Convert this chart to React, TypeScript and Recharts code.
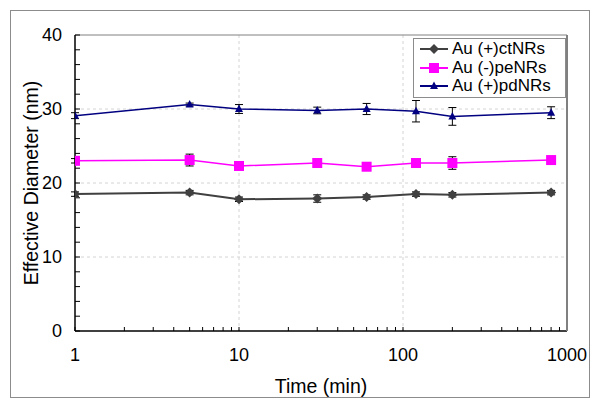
import React from 'react';
import { LineChart, Line, XAxis, YAxis, CartesianGrid, ErrorBar } from 'recharts';

// sampling times (min)
const times = [1, 5, 10, 30, 60, 120, 200, 800];

const ctValues = [18.5, 18.7, 17.8, 17.9, 18.1, 18.5, 18.4, 18.7];
const ctErrors = [0.3, 0.3, 0.3, 0.5, 0.3, 0.3, 0.3, 0.3];
const peValues = [23.0, 23.1, 22.3, 22.7, 22.2, 22.7, 22.7, 23.1];
const peErrors = [0.3, 0.8, 0.3, 0.3, 0.3, 0.3, 0.85, 0.3];
const pdValues = [29.1, 30.6, 30.0, 29.8, 30.0, 29.7, 29.0, 29.5];
const pdErrors = [0.4, 0.2, 0.6, 0.45, 0.75, 1.45, 1.2, 0.8];

const xTicks = [1, 2, 3, 4, 5, 6, 7, 8, 9, 10, 20, 30, 40, 50, 60, 70, 80, 90, 100, 200, 300, 400, 500, 600, 700, 800, 900, 1000];
const xLabels = [1, 10, 100, 1000];
const yTicks = [0, 2, 4, 6, 8, 10, 12, 14, 16, 18, 20, 22, 24, 26, 28, 30, 32, 34, 36, 38, 40];
const yLabels = [0, 10, 20, 30, 40];

const seriesNames = ['Au (+)ctNRs', 'Au (-)peNRs', 'Au (+)pdNRs'];
const seriesColors = ['#404040', '#ff00ff', '#000080'];

const data = times.map((t, i) => ({
  time: t,
  ct: ctValues[i],
  ctErr: ctErrors[i],
  pe: peValues[i],
  peErr: peErrors[i],
  pd: pdValues[i],
  pdErr: pdErrors[i]
}));

const FONT = '"Liberation Sans", Arial, sans-serif';
// plot area edges
const PLOT_LEFT = 75;
const PLOT_BOTTOM = 331;

const Marker = ({ kind, cx, cy, color }: { kind: number; cx: number; cy: number; color: string }) => {
  if (kind === 0) {
    const r = 5;
    return <polygon points={`${cx},${cy - r} ${cx + r},${cy} ${cx},${cy + r} ${cx - r},${cy}`} fill={color} />;
  }
  if (kind === 1) {
    return <rect x={cx - 5} y={cy - 5} width={10} height={10} fill={color} />;
  }
  return <polygon points={`${cx},${cy - 4.5} ${cx + 4},${cy + 3} ${cx - 4},${cy + 3}`} fill={color} />;
};

const makeDot = (kind: number, color: string) => (props: any) => {
  const { cx, cy, index } = props;
  if (cx == null || cy == null) return <g key={index} />;
  return <Marker key={index} kind={kind} cx={cx} cy={cy} color={color} />;
};

const XTick = (props: any) => {
  const { x, payload } = props;
  if (!xLabels.includes(payload.value)) return <g />;
  return <text x={x} y={PLOT_BOTTOM + 30} textAnchor="middle" fill="#000" fontSize={18} fontFamily={FONT}>
      {payload.value}
    </text>;
};

const YTick = (props: any) => {
  const { y, payload } = props;
  if (!yLabels.includes(payload.value)) return <g />;
  return <text x={PLOT_LEFT - 13} y={y} dy={6} textAnchor="end" fill="#000" fontSize={18} fontFamily={FONT}>
      {payload.value}
    </text>;
};

const LegendBox = () => <div style={{
  position: 'absolute',
  left: 413,
  top: 38,
  width: 140,
  border: '1px solid #8c8c8c',
  background: '#fff',
  padding: '1px 5px 1px 6px',
  fontFamily: FONT,
  fontSize: 17,
  lineHeight: '18.5px'
}}>
    {seriesNames.map((name, i) => <div key={name} style={{ display: 'flex', alignItems: 'center', whiteSpace: 'nowrap', height: 18.5 }}>
        <svg width={28} height={14} style={{ marginRight: 4 }}>
          <line x1={0} y1={7} x2={28} y2={7} stroke={seriesColors[i]} strokeWidth={2} />
          <Marker kind={i} cx={14} cy={7} color={seriesColors[i]} />
        </svg>
        <span>{name}</span>
      </div>)}
  </div>;

const App = () => {
  return <div style={{ position: 'absolute', left: 0, top: 0, width: 600, height: 407, background: '#fff' }}>
      <div style={{
      position: 'absolute',
      left: 10,
      top: 10,
      width: 578,
      height: 386,
      border: '1px solid #8c8c8c'
    }} />
      <div style={{ position: 'absolute', left: 0, top: 0 }}>
        <LineChart width={600} height={407} data={data} margin={{
        top: 34,
        right: 32,
        left: 0,
        bottom: 0
      }}>
          <CartesianGrid xAxisId="main" yAxisId="main" stroke="#d4d4d4" strokeDasharray="3 3" horizontalValues={[10, 20, 30]} verticalValues={[10, 100]} />
          <XAxis xAxisId="main" dataKey="time" type="number" scale="log" domain={[1, 1000]} ticks={xTicks} interval={0} allowDataOverflow tick={<XTick />} tickLine={{
          stroke: '#000'
        }} tickSize={-4} tickMargin={0} axisLine={{
          stroke: '#000',
          strokeWidth: 1.5
        }} height={76} label={{
          value: 'Time (min)',
          position: 'insideBottom',
          offset: 14,
          fill: '#000',
          fontSize: 19.5,
          fontFamily: FONT
        }} />
          <XAxis xAxisId="top" orientation="top" dataKey="time" type="number" scale="log" domain={[1, 1000]} tick={false} tickLine={false} height={1} axisLine={{
          stroke: '#808080',
          strokeWidth: 1
        }} />
          <YAxis yAxisId="main" type="number" domain={[0, 40]} ticks={yTicks} interval={0} tick={<YTick />} tickLine={{
          stroke: '#000'
        }} tickSize={-5} tickMargin={0} width={75} axisLine={{
          stroke: '#000',
          strokeWidth: 1.5
        }} label={{
          value: 'Effective Diameter (nm)',
          angle: -90,
          position: 'insideLeft',
          offset: 31,
          style: { textAnchor: 'middle' },
          fill: '#000',
          fontSize: 19.5,
          fontFamily: FONT
        }} />
          <YAxis yAxisId="right" orientation="right" type="number" domain={[0, 40]} tick={false} tickLine={false} width={1} axisLine={{
          stroke: '#808080',
          strokeWidth: 2
        }} />
          <Line xAxisId="main" yAxisId="main" dataKey="ct" stroke={seriesColors[0]} strokeWidth={2} dot={makeDot(0, seriesColors[0])} isAnimationActive={false}>
            <ErrorBar dataKey="ctErr" direction="y" width={4} stroke="#000" strokeWidth={1} />
          </Line>
          <Line xAxisId="main" yAxisId="main" dataKey="pe" stroke={seriesColors[1]} strokeWidth={1.5} dot={makeDot(1, seriesColors[1])} isAnimationActive={false}>
            <ErrorBar dataKey="peErr" direction="y" width={4} stroke="#000" strokeWidth={1} />
          </Line>
          <Line xAxisId="main" yAxisId="main" dataKey="pd" stroke={seriesColors[2]} strokeWidth={1.5} dot={makeDot(2, seriesColors[2])} isAnimationActive={false}>
            <ErrorBar dataKey="pdErr" direction="y" width={4} stroke="#000" strokeWidth={1} />
          </Line>
        </LineChart>
      </div>
      <LegendBox />
    </div>;
};

export default App;
